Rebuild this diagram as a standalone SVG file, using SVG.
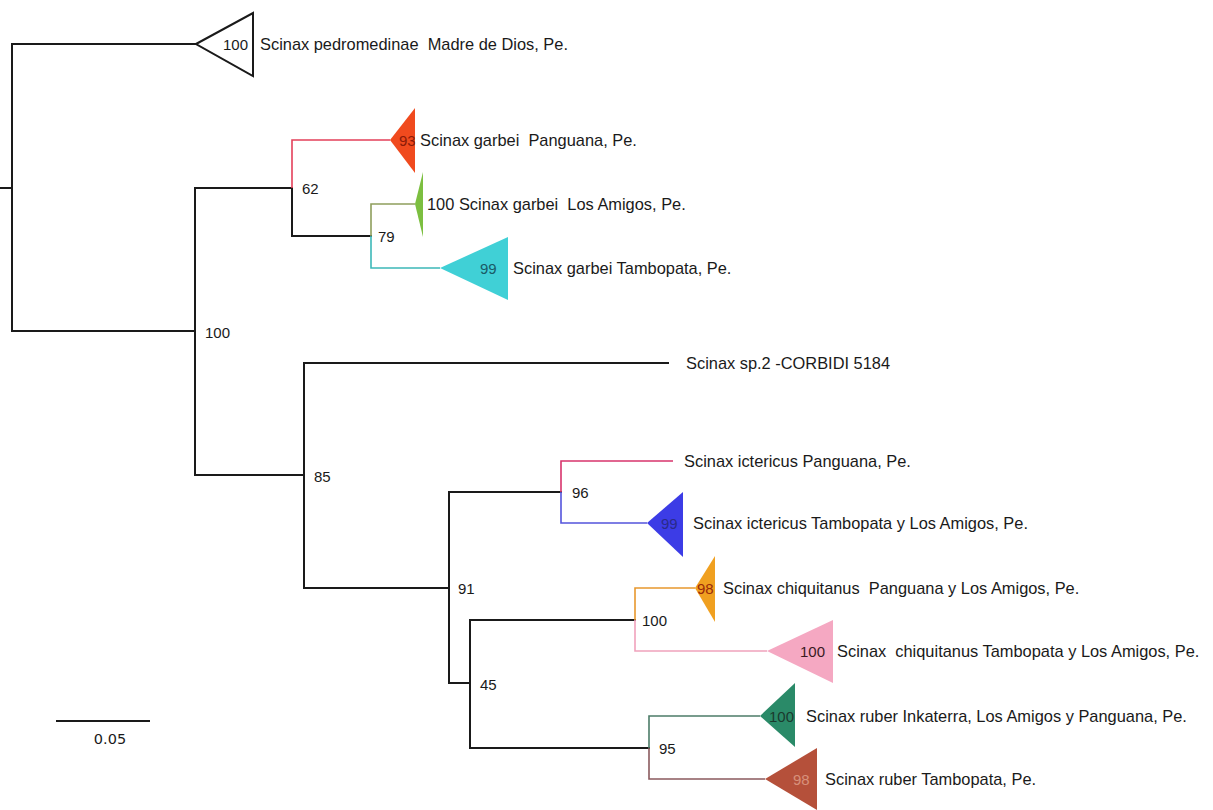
<svg xmlns="http://www.w3.org/2000/svg" width="1213" height="810" viewBox="0 0 1213 810">
<style>
  text { font-family: "Liberation Sans", Arial, sans-serif; font-size: 16.4px; fill: #1a1a1a; white-space: pre; }
  text.n { font-size: 15px; }
  .k { stroke: #1a1a1a; stroke-width: 2; fill: none; stroke-linecap: square; }
  .c { stroke-width: 1.6; fill: none; }
  .scale { font-family: "DejaVu Sans", sans-serif; font-size: 14.5px; }
</style>
<rect width="1213" height="810" fill="#ffffff"/>
<g id="connectors">
  <path class="k" d="M1,188 H12 M12,44 V331 M12,44 H196 M12,331 H195"/>
  <path class="k" d="M195,188 V475 M195,188 H292 M292,188 V236 M292,236 H371 M195,475 H304"/>
  <path class="c" stroke="#e4405a" d="M292,188 V140 H390"/>
  <path class="c" stroke="#8e9e5c" d="M371,236 V204 H415"/>
  <path class="c" stroke="#3cb8b8" d="M371,236 V268 H440"/>
  <path class="k" d="M304,363 V588 M304,363 H668 M304,588 H449 M449,492 V683 M449,492 H561 M449,683 H470 M470,620 V748 M470,620 H635 M470,748 H649"/>
  <path class="c" stroke="#d8346c" d="M561,492 V461 H673"/>
  <path class="c" stroke="#5454dc" d="M561,492 V523 H647"/>
  <path class="c" stroke="#e8982e" d="M635,620 V588 H695"/>
  <path class="c" stroke="#f0a2bc" d="M635,620 V651 H767"/>
  <path class="c" stroke="#4c7c68" d="M649,748 V716 H760"/>
  <path class="c" stroke="#8a5a5e" d="M649,748 V779 H765"/>
</g>
<g id="node-pedromedinae">
  <polygon points="196,44 253,13 253,76" fill="#ffffff" stroke="#1a1a1a" stroke-width="2" stroke-linejoin="miter"/>
  <text class="n" x="223" y="50">100</text>
  <text x="260" y="50">Scinax pedromedinae  Madre de Dios, Pe.</text>
</g>
<g id="node-garbei-panguana">
  <polygon points="390,140 415,108 415,173" fill="#f04a1e"/>
  <text class="n" x="399" y="146" style="fill:#8a1a08">93</text>
  <text x="420" y="146">Scinax garbei  Panguana, Pe.</text>
</g>
<g id="node-garbei-losamigos">
  <polygon points="415,204 423,172 423,237" fill="#7cbf40"/>
  <text x="427" y="210">100 Scinax garbei  Los Amigos, Pe.</text>
</g>
<g id="node-garbei-tambopata">
  <polygon points="440,268 508,237 508,300" fill="#40d0d6"/>
  <text class="n" x="480" y="274" style="fill:#1a5a66">99</text>
  <text x="513" y="274">Scinax garbei Tambopata, Pe.</text>
</g>
<g id="node-sp2">
  <text x="686" y="369">Scinax sp.2 -CORBIDI 5184</text>
</g>
<g id="node-ictericus-panguana">
  <text x="684" y="467">Scinax ictericus Panguana, Pe.</text>
</g>
<g id="node-ictericus-tambopata">
  <polygon points="647,523 683,492 683,557" fill="#3c3ce6"/>
  <text class="n" x="661" y="529" style="fill:#2a2a8a">99</text>
  <text x="693" y="529">Scinax ictericus Tambopata y Los Amigos, Pe.</text>
</g>
<g id="node-chiquitanus-panguana">
  <polygon points="695,588 715,556 715,622" fill="#f0a020"/>
  <text class="n" x="697" y="594" style="fill:#9a2a0a">98</text>
  <text x="723" y="594">Scinax chiquitanus  Panguana y Los Amigos, Pe.</text>
</g>
<g id="node-chiquitanus-tambopata">
  <polygon points="767,651 833,620 833,683" fill="#f5a8c2"/>
  <text class="n" x="800" y="657" style="fill:#3a1a22">100</text>
  <text x="837" y="657">Scinax  chiquitanus Tambopata y Los Amigos, Pe.</text>
</g>
<g id="node-ruber-inkaterra">
  <polygon points="760,716 795,683 795,747" fill="#2a8a68"/>
  <text class="n" x="769" y="722" style="fill:#1a3a2e">100</text>
  <text x="806" y="722">Scinax ruber Inkaterra, Los Amigos y Panguana, Pe.</text>
</g>
<g id="node-ruber-tambopata">
  <polygon points="765,779 817,748 817,810" fill="#b5503a"/>
  <text class="n" x="793" y="785" style="fill:#d8907a">98</text>
  <text x="825" y="785">Scinax ruber Tambopata, Pe.</text>
</g>
<g id="support-values">
  <text class="n" x="205" y="338">100</text>
  <text class="n" x="302" y="194">62</text>
  <text class="n" x="378" y="242">79</text>
  <text class="n" x="314" y="482">85</text>
  <text class="n" x="572" y="498">96</text>
  <text class="n" x="458" y="594">91</text>
  <text class="n" x="642" y="626">100</text>
  <text class="n" x="480" y="690">45</text>
  <text class="n" x="659" y="754">95</text>
</g>
<g id="scale-bar">
  <line x1="56" y1="721" x2="150" y2="721" stroke="#1a1a1a" stroke-width="2"/>
  <text class="scale" x="110" y="744" text-anchor="middle">0.05</text>
</g>
</svg>
